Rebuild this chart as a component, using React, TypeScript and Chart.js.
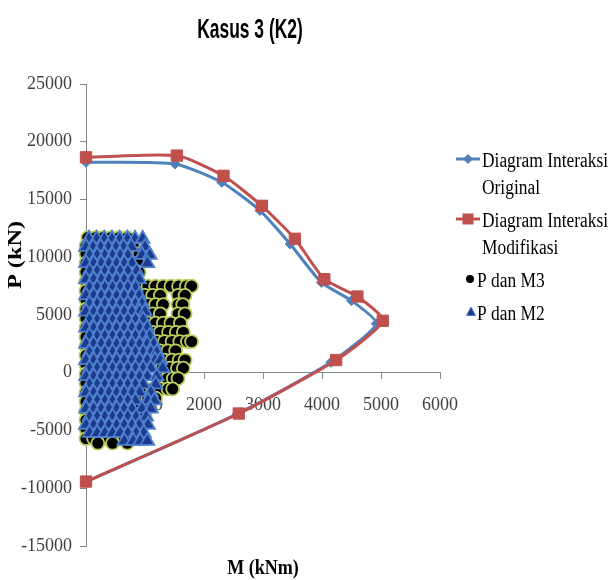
import React, { useEffect, useRef } from "react";
import { Chart, registerables } from "chart.js";

Chart.register(...registerables);

// ---------- Text ----------
const TITLE = "Kasus 3 (K2)";
const X_TITLE = "M (kNm)";
const Y_TITLE = "P (kN)";
const SERIES_NAMES = ["Diagram Interaksi Original", "Diagram Interaksi Modifikasi", "P dan M3", "P dan M2"];
const LEGEND_LINES = [["Diagram Interaksi", "Original"], ["Diagram Interaksi", "Modifikasi"], ["P dan M3"], ["P dan M2"]];

// ---------- Axes ----------
const X_MIN = 0;
const X_MAX = 6000;
const X_STEP = 1000;
const Y_MIN = -15000;
const Y_MAX = 25000;
const Y_STEP = 5000;

// ---------- Interaction diagrams (M, P) ----------
const originalM = [0, 1510, 2300, 2950, 3460, 3990, 4500, 4920, 4150, 2560, 0];
const originalP = [18220, 18080, 16490, 14040, 11150, 7820, 6240, 4250, 900, -3580, -9450];
const modifM = [0, 1540, 2330, 2980, 3540, 4040, 4600, 5030, 4240, 2590, 0];
const modifP = [18650, 18800, 17050, 14450, 11600, 8100, 6600, 4500, 1100, -3530, -9420];

// ---------- P dan M3 (rows: P, list of M) ----------
const m3Rows: [number, number[]][] = [
  [11700, [30, 160, 290, 420, 560, 700]],
  [11000, [0, 800]],
  [10300, [0, 820, 900]],
  [9500, [0, 880]],
  [8700, [0, 900]],
  [7900, [0, 880]],
  [7500, [1050, 1180, 1310, 1440, 1570, 1700, 1790]],
  [7100, [0]],
  [6700, [1000, 1130, 1260, 1560, 1680]],
  [6300, [0]],
  [5900, [1050, 1180, 1310, 1560, 1640]],
  [5500, [0]],
  [5100, [1000, 1130, 1260, 1560, 1680]],
  [4700, [0]],
  [4300, [1050, 1180, 1310, 1440, 1600]],
  [3900, [0]],
  [3500, [1000, 1130, 1260, 1400, 1530, 1650]],
  [3100, [0]],
  [2700, [1070, 1200, 1330, 1460, 1590, 1720, 1790]],
  [2300, [0]],
  [1900, [1130, 1260, 1390, 1520]],
  [1500, [0]],
  [1100, [1200, 1330, 1460, 1580, 1680]],
  [700, [0]],
  [400, [1290, 1420, 1550, 1650]],
  [-100, [0]],
  [-500, [1250, 1380, 1480, 1560]],
  [-900, [0]],
  [-1400, [1000, 1130, 1260, 1390, 1470]],
  [-1700, [0]],
  [-2200, [920, 1050, 1180]],
  [-2500, [0]],
  [-3000, [900, 1030]],
  [-3300, [0]],
  [-3800, [900, 1000]],
  [-4100, [0]],
  [-4900, [0, 900]],
  [-5700, [0, 130, 260, 390, 520, 650, 780]],
  [-6100, [200, 450, 700]],
];

// ---------- P dan M2 (rows: P, list of M) ----------
const m2Rows: [number, number[]][] = [
  [11600, [50, 180, 310, 440, 570, 700, 830, 960]],
  [10900, [0, 120, 250, 380, 510, 640, 770, 1000]],
  [10200, [60, 190, 320, 450, 580, 710, 950, 1080]],
  [9500, [0, 130, 260, 390, 520, 650, 780, 1040]],
  [8800, [60, 190, 320, 450, 580, 710, 860]],
  [8100, [0, 130, 260, 390, 520, 650, 780, 900]],
  [7400, [60, 190, 320, 450, 580, 710, 840]],
  [6700, [0, 130, 260, 390, 520, 650, 780, 900]],
  [6000, [60, 190, 320, 450, 580, 710, 840, 950]],
  [5300, [0, 130, 260, 390, 520, 650, 780, 910, 1000]],
  [4600, [60, 190, 320, 450, 580, 710, 840, 970]],
  [3900, [0, 130, 260, 390, 520, 650, 780, 910, 1040]],
  [3200, [60, 190, 320, 450, 580, 710, 840, 970, 1080]],
  [2500, [0, 130, 260, 390, 520, 650, 780, 910, 1040, 1150]],
  [1800, [60, 190, 320, 450, 580, 710, 840, 970, 1100, 1200]],
  [1100, [0, 130, 260, 390, 520, 650, 780, 910, 1040, 1170, 1260]],
  [400, [60, 190, 320, 450, 580, 710, 840, 970, 1100, 1300]],
  [-300, [0, 130, 260, 390, 520, 650, 780, 910, 1040, 1200]],
  [-1000, [60, 190, 320, 450, 580, 710, 840, 970, 1180]],
  [-1700, [0, 130, 260, 390, 520, 650, 780, 910, 1100]],
  [-2400, [60, 190, 320, 450, 580, 710, 840, 1050, 1160]],
  [-3100, [0, 130, 260, 390, 520, 650, 780, 950, 1100]],
  [-3800, [60, 190, 320, 450, 580, 710, 850, 1020]],
  [-4500, [0, 130, 260, 390, 520, 650, 780, 900, 1050]],
  [-5200, [60, 190, 320, 450, 580, 710, 850, 980]],
  [-5900, [650, 800, 920, 1040]],
];

// ---------- Colours ----------
const BLUE = "#4f81bd";
const RED = "#c0504d";
const M3_FILL = "#000000";
const M3_EDGE = "#bccf5e";
const M2_FILL = "#1d3b8e";
const M2_EDGE = "#4d80cc";
const AXIS = "#868686";
const TICK_TEXT = "#404040";

const pairs = (ms: number[], ps: number[]) => ms.map((m, i) => ({ x: m, y: ps[i] }));
const fromRows = (rows: [number, number[]][]) =>
  rows.flatMap(([p, ms]) => ms.map((m) => ({ x: m, y: p })));

const decorPlugin = {
  id: "decor",
  afterDraw(chart: any) {
    const ctx: CanvasRenderingContext2D = chart.ctx;
    const area = chart.chartArea;

    // Title
    ctx.save();
    ctx.fillStyle = "#000";
    ctx.font = 'bold 21px "Liberation Sans", Arial, sans-serif';
    ctx.textAlign = "center";
    ctx.textBaseline = "alphabetic";
    ctx.translate(250, 38);
    ctx.scale(0.83, 1.35);
    ctx.fillText(TITLE, 0, 0);
    ctx.restore();

    // X axis title
    ctx.save();
    ctx.fillStyle = "#000";
    ctx.font = 'bold 18px "Liberation Serif", "Times New Roman", serif';
    ctx.textAlign = "center";
    ctx.textBaseline = "middle";
    ctx.translate((area.left + area.right) / 2, 568);
    ctx.scale(1, 1.2);
    ctx.fillText(X_TITLE, 0, 0);
    ctx.restore();

    // Y axis title
    ctx.save();
    ctx.fillStyle = "#000";
    ctx.font = 'bold 18px "Liberation Serif", "Times New Roman", serif';
    ctx.textAlign = "center";
    ctx.textBaseline = "middle";
    ctx.translate(16, 255);
    ctx.rotate(-Math.PI / 2);
    ctx.scale(1.35, 1);
    ctx.fillText(Y_TITLE, 0, 0);
    ctx.restore();

    // Legend
    const datasets = chart.data.datasets;
    ctx.save();
    ctx.font = '20px "Liberation Serif", "Times New Roman", serif';
    ctx.textAlign = "left";
    ctx.textBaseline = "alphabetic";
    const sx = 0.87;
    const lineH = 27;
    const itemGap = 33;
    let base = 166.5;
    datasets.forEach((ds: any, i: number) => {
      const lines = LEGEND_LINES[i];
      const my = base - 7.5;
      const isLine = !!ds.showLine;
      if (isLine) {
        ctx.strokeStyle = ds.borderColor;
        ctx.lineWidth = 3;
        ctx.beginPath();
        ctx.moveTo(456, my);
        ctx.lineTo(480, my);
        ctx.stroke();
        ctx.fillStyle = ds.backgroundColor;
        ctx.beginPath();
        if (ds.pointStyle === "rect") {
          ctx.rect(468 - 5.5, my - 5.5, 11, 11);
        } else {
          ctx.moveTo(468, my - 5);
          ctx.lineTo(473, my);
          ctx.lineTo(468, my + 5);
          ctx.lineTo(463, my);
          ctx.closePath();
        }
        ctx.fill();
      } else {
        ctx.fillStyle = ds.backgroundColor;
        ctx.beginPath();
        if (ds.pointStyle === "triangle") {
          ctx.moveTo(471, my - 5);
          ctx.lineTo(475.5, my + 3.5);
          ctx.lineTo(466.5, my + 3.5);
          ctx.closePath();
          ctx.fill();
          ctx.strokeStyle = ds.borderColor;
          ctx.lineWidth = 1;
          ctx.stroke();
        } else {
          ctx.arc(470, my, 4, 0, Math.PI * 2);
          ctx.fill();
        }
      }
      const tx = isLine ? 482 : 477;
      ctx.fillStyle = "#000";
      lines.forEach((ln, k) => {
        ctx.save();
        ctx.translate(tx, base + k * lineH);
        ctx.scale(sx, 1.08);
        ctx.fillText(ln, 0, 0);
        ctx.restore();
      });
      base += (lines.length - 1) * lineH + itemGap;
    });
    ctx.restore();
  },
};

export default function App() {
  const ref = useRef<HTMLCanvasElement | null>(null);

  useEffect(() => {
    if (!ref.current) return;
    const tickFont = { family: '"Liberation Serif", "Times New Roman", serif', size: 18 };
    const chart = new Chart(ref.current, {
      type: "scatter",
      data: {
        datasets: [
          {
            label: SERIES_NAMES[0],
            data: pairs(originalM, originalP),
            showLine: true,
            tension: 0.2,
            borderColor: BLUE,
            backgroundColor: BLUE,
            borderWidth: 3,
            pointStyle: "rectRot",
            pointRadius: 5,
            pointBorderWidth: 1,
            clip: false,
            order: 4,
          } as any,
          {
            label: SERIES_NAMES[1],
            data: pairs(modifM, modifP),
            showLine: true,
            tension: 0.2,
            borderColor: RED,
            backgroundColor: RED,
            borderWidth: 3,
            pointStyle: "rect",
            pointRadius: 8,
            pointBorderWidth: 1,
            clip: false,
            order: 3,
          } as any,
          {
            label: SERIES_NAMES[2],
            data: fromRows(m3Rows),
            showLine: false,
            backgroundColor: M3_FILL,
            borderColor: M3_EDGE,
            borderWidth: 1.8,
            pointStyle: "circle",
            pointRadius: 6.5,
            clip: false,
            order: 2,
          } as any,
          {
            label: SERIES_NAMES[3],
            data: fromRows(m2Rows),
            showLine: false,
            backgroundColor: M2_FILL,
            borderColor: M2_EDGE,
            borderWidth: 1.8,
            pointStyle: "triangle",
            pointRadius: 8,
            clip: false,
            order: 1,
          } as any,
        ],
      },
      options: {
        responsive: false,
        animation: false,
        events: [],
        layout: { padding: { left: 0, top: 84, right: 172, bottom: 34 } },
        plugins: {
          legend: { display: false },
          title: { display: false },
          tooltip: { enabled: false },
        },
        scales: {
          x: {
            type: "linear",
            position: { y: 0 } as any,
            min: X_MIN,
            max: X_MAX,
            ticks: {
              stepSize: X_STEP,
              font: tickFont,
              color: TICK_TEXT,
              padding: 16,
              maxRotation: 0,
              autoSkip: false,
              callback: (v: any) => String(v),
            },
            grid: { drawOnChartArea: false, drawTicks: true, tickLength: 6, color: AXIS },
            border: { display: true, color: AXIS, width: 1 },
          },
          y: {
            type: "linear",
            position: "left",
            min: Y_MIN,
            max: Y_MAX,
            ticks: {
              stepSize: Y_STEP,
              font: tickFont,
              color: TICK_TEXT,
              padding: 8,
              autoSkip: false,
              callback: (v: any) => String(v),
            },
            grid: { drawOnChartArea: false, drawTicks: true, tickLength: 6, color: AXIS },
            border: { display: true, color: AXIS, width: 1 },
            afterFit: (s: any) => {
              s.width = 86;
            },
          },
        },
      } as any,
      plugins: [decorPlugin],
    });
    return () => chart.destroy();
  }, []);

  return (
    <div style={{ position: "absolute", left: 0, top: 0, width: 612, height: 580, background: "#fff" }}>
      <canvas ref={ref} width={612} height={580} style={{ display: "block" }} />
    </div>
  );
}
